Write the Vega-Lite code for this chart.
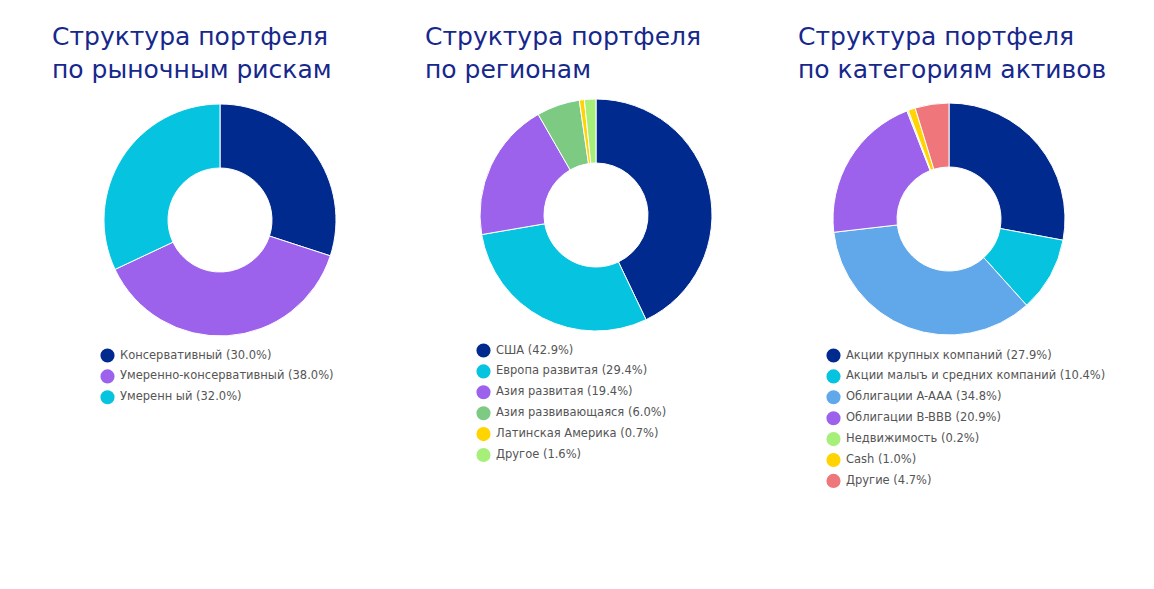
{
  "$schema": "https://vega.github.io/schema/vega-lite/v6.json",
  "background": "white",
  "padding": {"left": 46, "top": 25, "right": 5, "bottom": 5},
  "config": {
    "view": {"stroke": null},
    "title": {"font": "DejaVu Sans", "fontSize": 25, "fontWeight": "normal", "color": "#16288C", "lineHeight": 33, "anchor": "start", "frame": "group", "offset": 12},
    "legend": {"symbolType": "circle", "symbolSize": 200, "symbolStrokeWidth": 0, "labelFont": "DejaVu Sans", "labelFontSize": 11.5, "labelColor": "#555555", "labelLimit": 0, "rowPadding": 5.9, "labelOffset": 5, "padding": 0, "title": null}
  },
  "datasets": {
    "d": [
      {"chart": "risk", "idx": 1, "label": "Консервативный (30.0%)", "value": 30.0},
      {"chart": "risk", "idx": 2, "label": "Умеренно-консервативный (38.0%)", "value": 38.0},
      {"chart": "risk", "idx": 3, "label": "Умеренн ый (32.0%)", "value": 32.0},
      {"chart": "region", "idx": 1, "label": "США (42.9%)", "value": 42.9},
      {"chart": "region", "idx": 2, "label": "Европа развитая (29.4%)", "value": 29.4},
      {"chart": "region", "idx": 3, "label": "Азия развитая (19.4%)", "value": 19.4},
      {"chart": "region", "idx": 4, "label": "Азия развивающаяся (6.0%)", "value": 6.0},
      {"chart": "region", "idx": 5, "label": "Латинская Америка (0.7%)", "value": 0.7},
      {"chart": "region", "idx": 6, "label": "Другое (1.6%)", "value": 1.6},
      {"chart": "asset", "idx": 1, "label": "Акции крупных компаний (27.9%)", "value": 27.9},
      {"chart": "asset", "idx": 2, "label": "Акции малыъ и средних компаний (10.4%)", "value": 10.4},
      {"chart": "asset", "idx": 3, "label": "Облигации A-AAA (34.8%)", "value": 34.8},
      {"chart": "asset", "idx": 4, "label": "Облигации B-BBB (20.9%)", "value": 20.9},
      {"chart": "asset", "idx": 5, "label": "Недвижимость (0.2%)", "value": 0.2},
      {"chart": "asset", "idx": 6, "label": "Cash (1.0%)", "value": 1.0},
      {"chart": "asset", "idx": 7, "label": "Другие (4.7%)", "value": 4.7}
    ]
  },
  "data": {"name": "d"},
  "spacing": 20,
  "resolve": {"scale": {"color": "independent"}, "legend": {"color": "independent"}},
  "hconcat": [
    {
      "width": 348, "height": 250,
      "title": {"text": ["Структура портфеля", "по рыночным рискам"], "dx": 6},
      "transform": [{"filter": "datum.chart == 'risk'"}],
      "mark": {"type": "arc", "outerRadius": 116, "innerRadius": 52, "stroke": "white", "strokeWidth": 1},
      "encoding": {
        "theta": {"field": "value", "type": "quantitative", "stack": true},
        "order": {"field": "idx", "type": "quantitative"},
        "color": {"field": "label", "type": "nominal",
          "scale": {"domain": ["Консервативный (30.0%)", "Умеренно-консервативный (38.0%)", "Умеренн ый (32.0%)"], "range": ["#012A8E", "#9C62EC", "#06C3DF"]},
          "legend": {"orient": "none", "legendX": 54, "legendY": 253}}
      }
    },
    {
      "width": 364, "height": 240,
      "title": {"text": ["Структура портфеля", "по регионам"], "dx": 11},
      "transform": [{"filter": "datum.chart == 'region'"}],
      "mark": {"type": "arc", "outerRadius": 116, "innerRadius": 52, "stroke": "white", "strokeWidth": 1},
      "encoding": {
        "theta": {"field": "value", "type": "quantitative", "stack": true},
        "order": {"field": "idx", "type": "quantitative"},
        "color": {"field": "label", "type": "nominal",
          "scale": {"domain": ["США (42.9%)", "Европа развитая (29.4%)", "Азия развитая (19.4%)", "Азия развивающаяся (6.0%)", "Латинская Америка (0.7%)", "Другое (1.6%)"], "range": ["#012A8E", "#06C3DF", "#9C62EC", "#7DCB83", "#FFD400", "#A6F07A"]},
          "legend": {"orient": "none", "legendX": 62, "legendY": 248}}
      }
    },
    {
      "width": 302, "height": 248,
      "title": {"text": ["Структура портфеля", "по категориям активов"]},
      "transform": [{"filter": "datum.chart == 'asset'"}],
      "mark": {"type": "arc", "outerRadius": 116, "innerRadius": 52, "stroke": "white", "strokeWidth": 1},
      "encoding": {
        "theta": {"field": "value", "type": "quantitative", "stack": true},
        "order": {"field": "idx", "type": "quantitative"},
        "color": {"field": "label", "type": "nominal",
          "scale": {"domain": ["Акции крупных компаний (27.9%)", "Акции малыъ и средних компаний (10.4%)", "Облигации A-AAA (34.8%)", "Облигации B-BBB (20.9%)", "Недвижимость (0.2%)", "Cash (1.0%)", "Другие (4.7%)"], "range": ["#012A8E", "#06C3DF", "#61A8EB", "#9C62EC", "#A6F07A", "#FFD400", "#EF767B"]},
          "legend": {"orient": "none", "legendX": 28, "legendY": 253}}
      }
    }
  ]
}
